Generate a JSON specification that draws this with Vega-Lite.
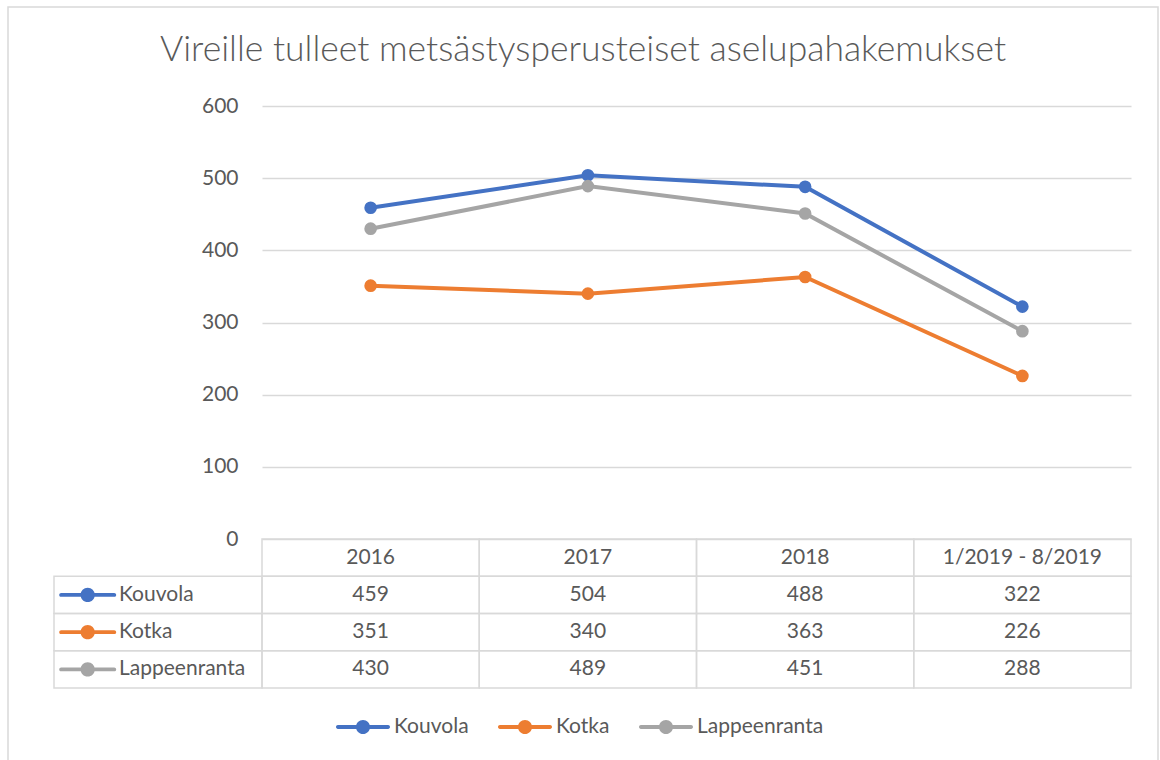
{
  "$schema": "https://vega.github.io/schema/vega-lite/v6.json",
  "width": 1150,
  "height": 760,
  "padding": {"left": 8, "top": 7, "right": 2, "bottom": 0},
  "background": "white",
  "title": {
    "text": "Vireille tulleet metsästysperusteiset aselupahakemukset",
    "font": "Lato",
    "fontSize": 35.5,
    "fontWeight": 300,
    "color": "#595959",
    "offset": -61,
    "anchor": "middle"
  },
  "config": {
    "view": {"stroke": "#d9d9d9", "strokeWidth": 1.5},
    "font": "Lato"
  },
  "datasets": {
    "d": [
      {"series": "Kouvola", "period": "2016", "value": 459},
      {"series": "Kouvola", "period": "2017", "value": 504},
      {"series": "Kouvola", "period": "2018", "value": 488},
      {"series": "Kouvola", "period": "1/2019 - 8/2019", "value": 322},
      {"series": "Kotka", "period": "2016", "value": 351},
      {"series": "Kotka", "period": "2017", "value": 340},
      {"series": "Kotka", "period": "2018", "value": 363},
      {"series": "Kotka", "period": "1/2019 - 8/2019", "value": 226},
      {"series": "Lappeenranta", "period": "2016", "value": 430},
      {"series": "Lappeenranta", "period": "2017", "value": 489},
      {"series": "Lappeenranta", "period": "2018", "value": 451},
      {"series": "Lappeenranta", "period": "1/2019 - 8/2019", "value": 288}
    ]
  },
  "data": {"name": "d"},
  "resolve": {"scale": {"x": "independent", "y": "independent"}},
  "layer": [
    {
      "layer": [
        {
          "mark": {"type": "line", "strokeWidth": 4, "strokeCap": "round"},
          "encoding": {
            "x": {"field": "period", "type": "nominal", "sort": null, "axis": null,
                  "scale": {"type": "band", "domain": ["2016", "2017", "2018", "1/2019 - 8/2019"], "range": [254, 1123], "paddingInner": 0, "paddingOuter": 0}},
            "y": {"field": "value", "type": "quantitative",
                  "scale": {"domain": [0, 600], "range": [532, 99], "nice": false, "zero": false},
                  "axis": {"values": [0, 100, 200, 300, 400, 500, 600], "offset": -254, "domain": false, "ticks": false, "tickSize": 0, "labelPadding": 24,
                           "grid": true, "gridColor": "#d9d9d9", "gridWidth": 1.5, "labelFont": "Lato", "labelFontSize": 21, "labelColor": "#595959", "title": null}},
            "color": {"field": "series", "type": "nominal",
                      "scale": {"domain": ["Kouvola", "Kotka", "Lappeenranta"], "range": ["#4472C4", "#ED7D31", "#A5A5A5"]},
                      "legend": {"orient": "none", "legendX": 328, "legendY": 693, "direction": "horizontal", "title": null,
                                 "symbolType": "M-0.93,-0.07L-0.2,-0.07L-0.2,0.07L-0.93,0.07A0.07,0.07,0,0,1,-0.93,-0.07ZM0.2,-0.07L0.93,-0.07A0.07,0.07,0,0,1,0.93,0.07L0.2,0.07ZM0.26,0A0.26,0.26,0,1,1,-0.26,0A0.26,0.26,0,1,1,0.26,0Z",
                                 "symbolSize": 2916, "symbolStrokeWidth": 0, "symbolOpacity": 1,
                                 "labelFont": "Lato", "labelFontSize": 21, "labelColor": "#595959", "labelOffset": 4, "columnPadding": 28}}
          }
        },
        {
          "mark": {"type": "point", "filled": true, "size": 160, "opacity": 1, "strokeWidth": 0},
          "encoding": {
            "x": {"field": "period", "type": "nominal", "sort": null},
            "y": {"field": "value", "type": "quantitative"},
            "color": {"field": "series", "type": "nominal",
                      "legend": {"orient": "none", "legendX": 328, "legendY": 693, "direction": "horizontal", "title": null,
                                 "symbolType": "M-0.93,-0.07L-0.2,-0.07L-0.2,0.07L-0.93,0.07A0.07,0.07,0,0,1,-0.93,-0.07ZM0.2,-0.07L0.93,-0.07A0.07,0.07,0,0,1,0.93,0.07L0.2,0.07ZM0.26,0A0.26,0.26,0,1,1,-0.26,0A0.26,0.26,0,1,1,0.26,0Z",
                                 "symbolSize": 2916, "symbolStrokeWidth": 0, "symbolOpacity": 1,
                                 "labelFont": "Lato", "labelFontSize": 21, "labelColor": "#595959", "labelOffset": 4, "columnPadding": 28}}
          }
        }
      ]
    },
    {
      "layer": [
        {
          "transform": [{"filter": "datum.series === 'Kouvola'"}],
          "mark": {"type": "rect", "fill": "white", "fillOpacity": 0, "stroke": "#d9d9d9", "strokeWidth": 1.5},
          "encoding": {
            "x": {"field": "period", "type": "nominal", "sort": null, "axis": null,
                  "scale": {"type": "band", "domain": ["2016", "2017", "2018", "1/2019 - 8/2019"], "range": [254, 1123], "paddingInner": 0, "paddingOuter": 0}},
            "y": {"datum": "header", "type": "nominal", "axis": null,
                  "scale": {"type": "band", "domain": ["header", "Kouvola", "Kotka", "Lappeenranta"], "range": [532, 681], "paddingInner": 0, "paddingOuter": 0}}
          }
        },
        {
          "mark": {"type": "rect", "fill": "white", "fillOpacity": 0, "stroke": "#d9d9d9", "strokeWidth": 1.5},
          "encoding": {
            "x": {"field": "period", "type": "nominal", "sort": null},
            "y": {"field": "series", "type": "nominal"}
          }
        },
        {
          "transform": [{"filter": "datum.series === 'Kouvola'"}],
          "mark": {"type": "text", "font": "Lato", "fontSize": 21, "color": "#595959", "baseline": "middle"},
          "encoding": {
            "x": {"field": "period", "type": "nominal", "sort": null},
            "y": {"datum": "header", "type": "nominal"},
            "text": {"field": "period", "type": "nominal"}
          }
        },
        {
          "mark": {"type": "text", "font": "Lato", "fontSize": 21, "color": "#595959", "baseline": "middle"},
          "encoding": {
            "x": {"field": "period", "type": "nominal", "sort": null},
            "y": {"field": "series", "type": "nominal"},
            "text": {"field": "value", "type": "quantitative"}
          }
        }
      ]
    },
    {
      "transform": [{"filter": "datum.period === '2016'"}],
      "layer": [
        {
          "mark": {"type": "rect", "fill": "white", "fillOpacity": 0, "stroke": "#d9d9d9", "strokeWidth": 1.5},
          "encoding": {
            "x": {"datum": "label", "type": "nominal", "axis": null,
                  "scale": {"type": "band", "domain": ["label"], "range": [46, 254], "paddingInner": 0, "paddingOuter": 0}},
            "y": {"field": "series", "type": "nominal", "axis": null,
                  "scale": {"type": "band", "domain": ["header", "Kouvola", "Kotka", "Lappeenranta"], "range": [532, 681], "paddingInner": 0, "paddingOuter": 0}}
          }
        },
        {
          "mark": {"type": "point", "filled": true, "opacity": 1, "strokeWidth": 0, "size": 3249,
                   "shape": "M-0.93,-0.07L-0.2,-0.07L-0.2,0.07L-0.93,0.07A0.07,0.07,0,0,1,-0.93,-0.07ZM0.2,-0.07L0.93,-0.07A0.07,0.07,0,0,1,0.93,0.07L0.2,0.07ZM0.25,0A0.25,0.25,0,1,1,-0.25,0A0.25,0.25,0,1,1,0.25,0Z"},
          "encoding": {
            "x": {"datum": "label", "type": "nominal", "bandPosition": 0.162},
            "y": {"field": "series", "type": "nominal"},
            "color": {"field": "series", "type": "nominal"}
          }
        },
        {
          "mark": {"type": "text", "font": "Lato", "fontSize": 21, "color": "#595959", "baseline": "middle", "align": "left"},
          "encoding": {
            "x": {"datum": "label", "type": "nominal", "bandPosition": 0.3125},
            "y": {"field": "series", "type": "nominal"},
            "text": {"field": "series", "type": "nominal"}
          }
        }
      ]
    }
  ]
}
